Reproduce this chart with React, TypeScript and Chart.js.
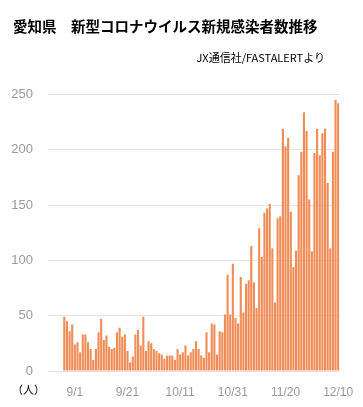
import React, { useEffect, useRef } from 'react';
import { Chart, registerables } from 'chart.js';

Chart.register(...registerables);

const dates: string[] = [
  '8/28', '8/29', '8/30', '8/31',
  '9/1', '9/2', '9/3', '9/4', '9/5', '9/6', '9/7', '9/8', '9/9', '9/10',
  '9/11', '9/12', '9/13', '9/14', '9/15', '9/16', '9/17', '9/18', '9/19', '9/20',
  '9/21', '9/22', '9/23', '9/24', '9/25', '9/26', '9/27', '9/28', '9/29', '9/30',
  '10/1', '10/2', '10/3', '10/4', '10/5', '10/6', '10/7', '10/8', '10/9', '10/10',
  '10/11', '10/12', '10/13', '10/14', '10/15', '10/16', '10/17', '10/18', '10/19', '10/20',
  '10/21', '10/22', '10/23', '10/24', '10/25', '10/26', '10/27', '10/28', '10/29', '10/30', '10/31',
  '11/1', '11/2', '11/3', '11/4', '11/5', '11/6', '11/7', '11/8', '11/9', '11/10',
  '11/11', '11/12', '11/13', '11/14', '11/15', '11/16', '11/17', '11/18', '11/19', '11/20',
  '11/21', '11/22', '11/23', '11/24', '11/25', '11/26', '11/27', '11/28', '11/29', '11/30',
  '12/1', '12/2', '12/3', '12/4', '12/5', '12/6', '12/7', '12/8', '12/9', '12/10',
];

const newCases: number[] = [
  49, 45, 36, 42,
  24, 26, 17, 33, 33, 26, 20, 10, 20, 35,
  47, 28, 32, 22, 20, 21, 35, 39, 31, 33,
  18, 8, 13, 33, 37, 23, 49, 18, 27, 25,
  20, 18, 16, 15, 11, 14, 14, 14, 10, 20,
  15, 17, 23, 14, 17, 20, 27, 20, 14, 12,
  35, 17, 43, 42, 15, 36, 35, 51, 87, 51, 97,
  48, 43, 85, 53, 79, 82, 113, 80, 57, 129,
  103, 143, 147, 151, 111, 62, 138, 140, 219, 203,
  211, 144, 94, 109, 177, 198, 234, 217, 155, 108,
  197, 219, 195, 215, 219, 170, 111, 198, 245, 242,
];

const xTickLabels: string[] = ['9/1', '9/21', '10/11', '10/31', '11/20', '12/10'];
const yMax = 250;
const yStep = 50;

const titleText = '愛知県　新型コロナウイルス新規感染者数推移';
const sourceText = 'JX通信社/FASTALERTより';
const unitText = '（人）';

const tickFont = '"Liberation Sans", Arial, sans-serif';
const jpFont = '"Noto Sans CJK JP", "Noto Sans", sans-serif';

export default function App() {
  const ref = useRef<HTMLCanvasElement>(null);

  useEffect(() => {
    if (!ref.current) return;
    const chart = new Chart(ref.current, {
      type: 'bar',
      data: {
        labels: dates,
        datasets: [
          {
            data: newCases,
            backgroundColor: '#f08c55',
            barPercentage: 0.8,
            categoryPercentage: 1,
          },
        ],
      },
      options: {
        responsive: false,
        maintainAspectRatio: false,
        animation: false,
        layout: { padding: { left: 0, right: 23.5, top: 94.5, bottom: 0 } },
        plugins: {
          legend: { display: false },
          tooltip: { enabled: false },
          title: { display: false },
        },
        scales: {
          x: {
            grid: { display: false },
            border: { display: false },
            ticks: {
              autoSkip: false,
              maxRotation: 0,
              minRotation: 0,
              padding: 6,
              color: '#999999',
              font: { family: tickFont, size: 12 },
              callback: (_v: any, i: number) => (xTickLabels.includes(dates[i]) ? dates[i] : null),
            },
            afterFit: (s: any) => {
              s.height = 36;
            },
          },
          y: {
            min: 0,
            max: yMax,
            border: { display: false },
            grid: { color: '#e4e4e4', tickLength: 15 },
            ticks: {
              stepSize: yStep,
              padding: 15,
              color: '#999999',
              font: { family: tickFont, size: 13 },
            },
            afterFit: (s: any) => {
              s.width = 63;
            },
          },
        },
      },
    });
    return () => chart.destroy();
  }, []);

  return (
    <div style={{ position: 'fixed', left: 0, top: 0, width: 363, height: 407, background: '#fff', overflow: 'hidden' }}>
      <canvas ref={ref} width={363} height={407} style={{ position: 'absolute', left: 0, top: 0 }} />
      <div
        style={{
          position: 'absolute',
          left: 13,
          top: 19,
          fontFamily: jpFont,
          fontWeight: 700,
          fontSize: 14.5,
          lineHeight: 1,
          whiteSpace: 'nowrap',
          color: '#000',
        }}
      >
        {titleText}
      </div>
      <div
        style={{
          position: 'absolute',
          right: 38,
          top: 52,
          fontFamily: jpFont,
          fontSize: 11,
          lineHeight: 1,
          whiteSpace: 'nowrap',
          color: '#000',
        }}
      >
        {sourceText}
      </div>
      <div
        style={{
          position: 'absolute',
          left: 12,
          top: 384,
          fontFamily: jpFont,
          fontSize: 11,
          lineHeight: 1,
          whiteSpace: 'nowrap',
          color: '#000',
        }}
      >
        {unitText}
      </div>
    </div>
  );
}
